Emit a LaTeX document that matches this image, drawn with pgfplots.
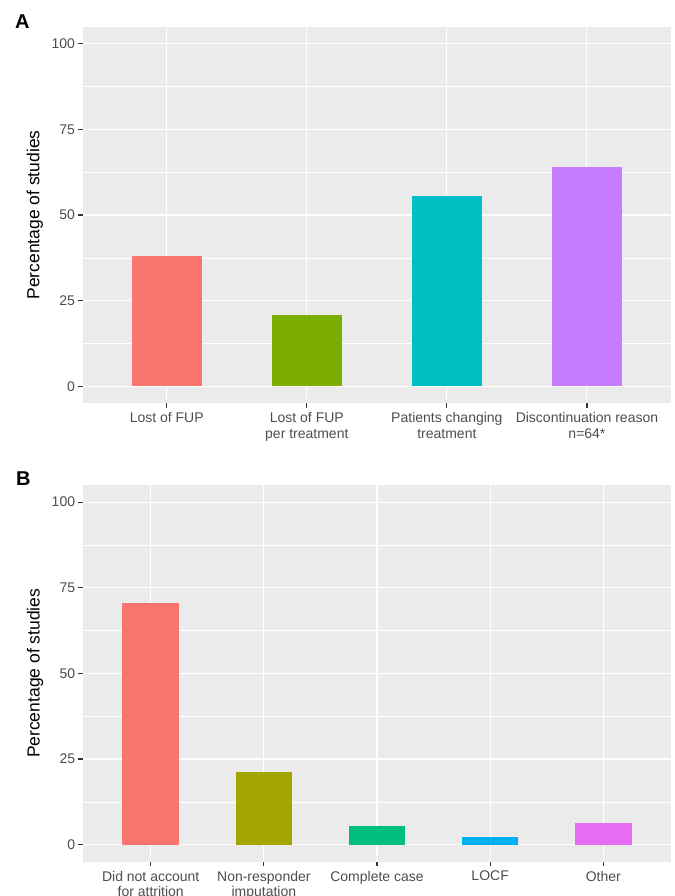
\documentclass[border=0pt]{standalone}
\usepackage{fontspec}
\setmainfont{Liberation Sans}
\usepackage{pgfplots}
\pgfplotsset{compat=1.18}

\definecolor{panelbg}{HTML}{EBEBEB}
\definecolor{labgrey}{HTML}{4D4D4D}
\definecolor{tickgrey}{HTML}{333333}
\definecolor{hueA1}{HTML}{F8766D}
\definecolor{hueA2}{HTML}{7CAE00}
\definecolor{hueA3}{HTML}{00BFC4}
\definecolor{hueA4}{HTML}{C77CFF}
\definecolor{hueB1}{HTML}{F8766D}
\definecolor{hueB2}{HTML}{A3A500}
\definecolor{hueB3}{HTML}{00BF7D}
\definecolor{hueB4}{HTML}{00B0F6}
\definecolor{hueB5}{HTML}{E76BF3}

\pgfplotsset{
  ggpanel/.style={
    scale only axis,
    anchor=north west,
    axis background/.style={fill=panelbg},
    axis line style={draw=none},
    ymin=-5, ymax=105,
    ytick={0,25,50,75,100},
    minor ytick={12.5,37.5,62.5,87.5},
    xmajorgrids, ymajorgrids, yminorgrids,
    major grid style={white, line width=1.07bp},
    minor grid style={white, line width=0.53bp},
    tick align=outside, tick pos=left,
    major tick length=4.5bp, minor tick length=0pt,
    major tick style={draw=tickgrey, line width=1.1bp},
    ticklabel style={font=\fontsize{14bp}{15.5bp}\selectfont, text=labgrey},
    /pgf/number format/assume math mode=true,
    yticklabel style={anchor=east, inner sep=0pt, xshift=-3bp},
    xticklabel style={anchor=north, inner sep=0pt, align=center, yshift=-4.5bp},
    ylabel={Percentage of studies},
    every axis y label/.style={at={(axis description cs:-0.067,0.5)},
      rotate=90, anchor=south, inner sep=0pt,
      font=\fontsize{17.5bp}{20bp}\selectfont},
    ybar, bar width=0.5, bar shift=0pt,
  },
}

\begin{document}
\begin{tikzpicture}
% Panel A
\begin{axis}[ggpanel,
  at={(82.7bp,-26.7bp)}, width=588.3bp, height=376.6bp,
  xmin=-0.6, xmax=3.6, xtick={0,1,2,3},
  xticklabels={Lost of FUP, {Lost of FUP\\per treatment}, {Patients changing\\treatment}, {Discontinuation reason\\n=64*}},
]
\addplot[fill=hueA1, draw=none, bar shift=0pt] coordinates {(0,38.1)};
\addplot[fill=hueA2, draw=none, bar shift=0pt] coordinates {(1,20.8)};
\addplot[fill=hueA3, draw=none, bar shift=0pt] coordinates {(2,55.6)};
\addplot[fill=hueA4, draw=none, bar shift=0pt] coordinates {(3,63.9)};
\end{axis}
% Panel B
\begin{axis}[ggpanel,
  at={(82.8bp,-485bp)}, width=588.4bp, height=376.7bp,
  xmin=-0.6, xmax=4.6, xtick={0,1,2,3,4},
  xticklabels={{Did not account\\for attrition}, {Non-responder\\imputation}, Complete case, LOCF, Other},
]
\addplot[fill=hueB1, draw=none, bar shift=0pt] coordinates {(0,70.5)};
\addplot[fill=hueB2, draw=none, bar shift=0pt] coordinates {(1,21.1)};
\addplot[fill=hueB3, draw=none, bar shift=0pt] coordinates {(2,5.3)};
\addplot[fill=hueB4, draw=none, bar shift=0pt] coordinates {(3,2.2)};
\addplot[fill=hueB5, draw=none, bar shift=0pt] coordinates {(4,6.3)};
\end{axis}
\node[anchor=north west, inner sep=0pt, font=\bfseries\fontsize{20bp}{24bp}\selectfont] at (15bp,-15bp) {A};
\node[anchor=north west, inner sep=0pt, font=\bfseries\fontsize{20bp}{24bp}\selectfont] at (16bp,-471.7bp) {B};
\pgfresetboundingbox
\path[use as bounding box] (0,0) rectangle (675bp,-896bp);
\end{tikzpicture}
\end{document}
